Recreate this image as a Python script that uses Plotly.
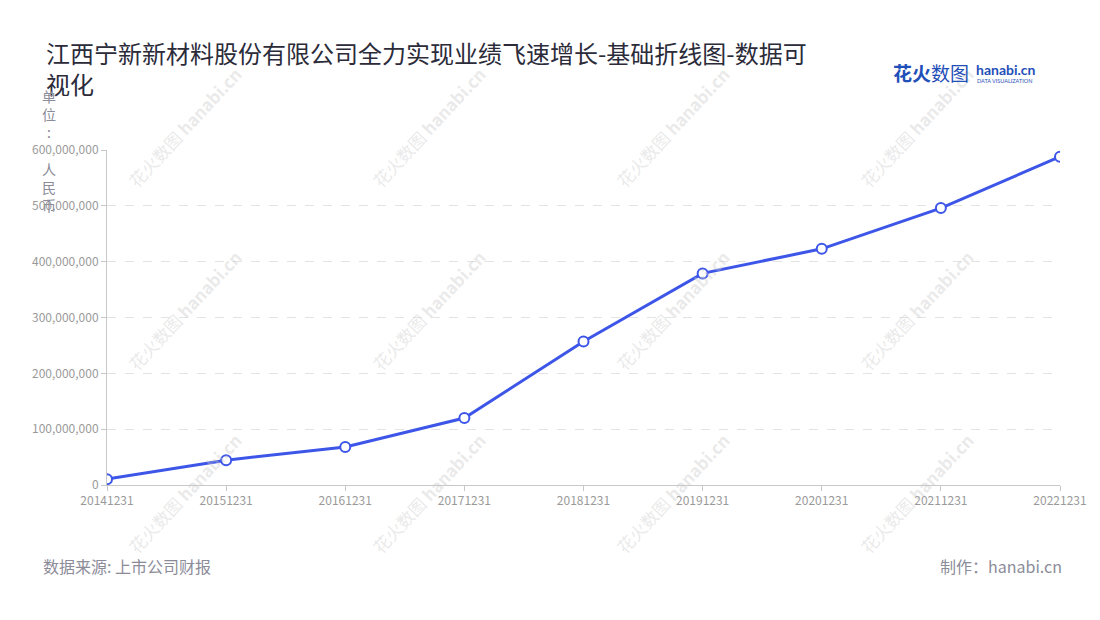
import plotly.graph_objects as go

# Data
dates = ["20141231", "20151231", "20161231", "20171231", "20181231",
         "20191231", "20201231", "20211231", "20221231"]
revenue = [10500000, 44500000, 68000000, 120000000, 257000000,
           379000000, 423000000, 496000000, 588000000]

title_text = "江西宁新新材料股份有限公司全力实现业绩飞速增长-基础折线图-数据可<br>视化"
unit_text = "单<br>位<br>:<br> <br>人<br>民<br>币"
source_text = "数据来源: 上市公司财报"
maker_text = "制作：hanabi.cn"

FONT = "Noto Sans CJK SC, Noto Sans, sans-serif"
LINE_COLOR = "#3d56e8"
GRAY = "#8c8c99"

# plot area in screen pixels (the page adds an 8px body margin)
OFF = 8
L, R, T, B = 107, 1060, 150, 485


def px(x):
    return (x - L) / (R - L)


def py(y):
    return (B - y) / (B - T)


fig = go.Figure()

fig.add_trace(go.Scatter(
    x=dates,
    y=revenue,
    mode="lines+markers",
    line=dict(color=LINE_COLOR, width=3),
    marker=dict(size=10, color="white", line=dict(color=LINE_COLOR, width=2)),
    hovertemplate="%{x}<br>%{y:,.0f}<extra></extra>",
))

annotations = []

# faint diagonal watermarks (drawn first so they sit underneath)
for wx in [184, 428, 672, 916]:
    for wy in [127, 310, 493]:
        annotations.append(dict(
            text="花火数图 <b>hanabi.cn</b>", x=px(wx), y=py(wy),
            xref="paper", yref="paper", xanchor="center", yanchor="middle",
            showarrow=False, textangle=-47,
            font=dict(size=17, color="rgba(200,200,200,0.4)", family=FONT),
        ))

annotations += [
    dict(text=title_text, x=px(44), y=py(33), xref="paper", yref="paper",
         xanchor="left", yanchor="top", align="left", showarrow=False,
         font=dict(size=24, color="#2b2b3a", family=FONT)),
    dict(text=unit_text, x=px(49), y=py(84), xref="paper", yref="paper",
         xanchor="center", yanchor="top", align="center", showarrow=False,
         font=dict(size=14, color=GRAY, family=FONT)),
    dict(text=source_text, x=px(41), y=py(566), xref="paper", yref="paper",
         xanchor="left", yanchor="middle", showarrow=False,
         font=dict(size=16, color=GRAY, family=FONT)),
    dict(text=maker_text, x=px(1064), y=py(566), xref="paper", yref="paper",
         xanchor="right", yanchor="middle", showarrow=False,
         font=dict(size=16, color=GRAY, family=FONT)),
    # logo
    dict(text="<b>花火</b>数图", x=px(891), y=py(73), xref="paper", yref="paper",
         xanchor="left", yanchor="middle", showarrow=False,
         font=dict(size=19, color="#1f4fb8", family=FONT)),
    dict(text="<b>hanabi.cn</b>", x=px(974), y=py(70), xref="paper", yref="paper",
         xanchor="left", yanchor="middle", showarrow=False,
         font=dict(size=14, color="#1f4fb8", family="Lato, sans-serif")),
    dict(text="DATA VISUALIZATION", x=px(975), y=py(81), xref="paper", yref="paper",
         xanchor="left", yanchor="middle", showarrow=False,
         font=dict(size=5.5, color="#1f4fb8", family="Lato, sans-serif")),
]

fig.update_layout(
    width=1100,
    height=620,
    margin=dict(l=L - OFF, r=1100 + OFF - R, t=T - OFF, b=620 + OFF - B),
    plot_bgcolor="white",
    paper_bgcolor="white",
    showlegend=False,
    font=dict(family=FONT, color="#999999", size=12),
    annotations=annotations,
    xaxis=dict(
        type="category",
        range=[0, len(dates) - 1],
        showgrid=False,
        showline=True,
        linecolor="#c8c8c8",
        linewidth=1,
        ticks="outside",
        ticklen=5,
        tickcolor="#c8c8c8",
        tickfont=dict(size=12, color="#9a9a9a"),
        zeroline=False,
    ),
    yaxis=dict(
        range=[0, 600000000],
        tickvals=[0, 100000000, 200000000, 300000000, 400000000, 500000000, 600000000],
        tickformat=",",
        showgrid=True,
        gridcolor="#e3e3e3",
        griddash="dash",
        showline=True,
        linecolor="#c8c8c8",
        linewidth=1,
        ticks="outside",
        ticklen=5,
        tickcolor="#c8c8c8",
        tickfont=dict(size=12, color="#9a9a9a"),
        zeroline=False,
    ),
)

fig.write_html("out.html")
